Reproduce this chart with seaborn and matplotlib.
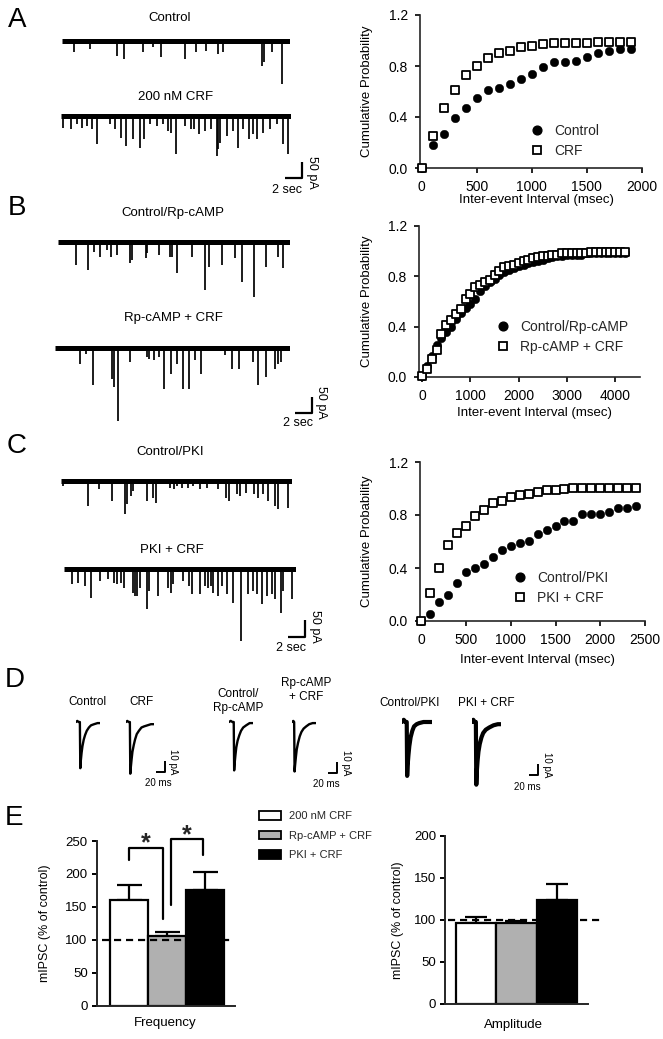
import numpy as np
import pandas as pd
import matplotlib
matplotlib.use("Agg")
import matplotlib.pyplot as plt
import seaborn as sns
from matplotlib.lines import Line2D
from matplotlib.patches import Patch
from matplotlib.ticker import FormatStrFormatter

sns.set_theme(style="ticks")
plt.rcParams["font.family"] = ["Liberation Sans", "DejaVu Sans"]

# ---------------- data ----------------
# Panel A cumulative probability
a_interval = [0, 100, 200, 300, 400, 500, 600, 700, 800, 900, 1000, 1100, 1200, 1300, 1400, 1500, 1600, 1700, 1800, 1900]
a_control = [0.0, 0.18, 0.27, 0.39, 0.47, 0.55, 0.61, 0.63, 0.66, 0.70, 0.74, 0.79, 0.83, 0.83, 0.84, 0.87, 0.90, 0.92, 0.93, 0.93]
a_crf = [0.0, 0.25, 0.47, 0.61, 0.73, 0.80, 0.86, 0.90, 0.92, 0.95, 0.96, 0.97, 0.98, 0.98, 0.98, 0.98, 0.99, 0.99, 0.99, 0.99]

# Panel B cumulative probability
b_interval = list(range(0, 4300, 100))
b_control = [0.01, 0.09, 0.17, 0.25, 0.31, 0.36, 0.40, 0.46, 0.51, 0.55, 0.58, 0.62, 0.68, 0.72, 0.75, 0.78,
             0.81, 0.83, 0.85, 0.86, 0.88, 0.89, 0.90, 0.91, 0.92, 0.93, 0.94, 0.95, 0.96, 0.96, 0.97, 0.97,
             0.97, 0.97, 0.98, 0.98, 0.98, 0.98, 0.98, 0.98, 0.98, 0.98, 0.98]
b_crf = [0.01, 0.06, 0.14, 0.21, 0.34, 0.41, 0.45, 0.50, 0.54, 0.62, 0.66, 0.71, 0.73, 0.75, 0.77, 0.81,
         0.84, 0.87, 0.88, 0.89, 0.90, 0.92, 0.93, 0.94, 0.95, 0.96, 0.96, 0.97, 0.97, 0.98, 0.98, 0.98,
         0.98, 0.98, 0.98, 0.99, 0.99, 0.99, 0.99, 0.99, 0.99, 0.99, 0.99]

# Panel C cumulative probability
c_interval = list(range(0, 2500, 100))
c_control = [0.0, 0.055, 0.145, 0.195, 0.29, 0.37, 0.40, 0.43, 0.48, 0.535, 0.565, 0.59, 0.605, 0.655, 0.685,
             0.72, 0.755, 0.755, 0.805, 0.805, 0.805, 0.82, 0.85, 0.85, 0.87]
c_crf = [0.0, 0.21, 0.40, 0.575, 0.665, 0.72, 0.79, 0.835, 0.89, 0.905, 0.935, 0.95, 0.96, 0.97, 0.985,
         0.985, 0.995, 1.0, 1.0, 1.0, 1.0, 1.0, 1.0, 1.0, 1.0]

# Raw traces: event times (s) and amplitudes (pA)
tA_ctrl_t = [1.40, 3.31, 6.51, 7.39, 9.62, 10.90, 11.82, 14.69, 15.97, 17.21, 18.68, 19.20, 23.87, 24.19, 25.07, 26.27]
tA_ctrl_a = [35, 25, 45, 55, 35, 20, 50, 55, 35, 30, 40, 35, 75, 65, 35, 130]
tA_crf_t = [0.28, 1.16, 1.96, 2.48, 3.15, 3.67, 4.27, 5.87, 6.47, 7.15, 7.78, 8.66, 9.46, 9.94, 10.66, 11.46,
            12.18, 12.85, 13.13, 13.77, 14.85, 15.53, 15.93, 16.57, 17.25, 17.96, 18.64, 18.84, 19.04, 19.84,
            20.64, 21.24, 21.84, 22.55, 23.03, 23.43, 24.23, 25.03, 25.83, 26.63, 27.23]
tA_crf_a = [35, 40, 25, 35, 30, 40, 85, 25, 40, 65, 90, 70, 95, 70, 25, 30, 25, 45, 50, 115, 30, 40, 40, 55,
            45, 40, 120, 100, 80, 60, 45, 95, 40, 70, 55, 70, 50, 40, 25, 85, 115]
tB_ctrl_t = [2.12, 3.51, 4.27, 4.99, 5.87, 6.31, 6.99, 8.58, 8.78, 10.46, 10.66, 12.06, 13.37, 13.57, 14.17,
             15.97, 17.56, 18.04, 19.64, 21.16, 21.96, 23.47, 24.87, 26.35, 26.95]
tB_ctrl_a = [70, 85, 30, 45, 25, 45, 40, 65, 55, 50, 35, 40, 45, 45, 95, 45, 145, 75, 70, 50, 120, 165, 75, 45, 80]
tB_crf_t = [2.99, 3.71, 4.59, 6.79, 7.07, 7.58, 8.98, 10.98, 11.26, 11.86, 12.50, 13.05, 13.85, 14.57, 15.29,
            16.09, 16.77, 17.49, 20.36, 21.16, 22.08, 23.75, 24.35, 25.23, 26.35, 26.75, 27.03]
tB_crf_a = [48, 18, 113, 93, 118, 218, 43, 28, 33, 38, 28, 123, 78, 48, 123, 123, 38, 78, 23, 63, 63, 43, 113,
            88, 63, 48, 43]
tC_ctrl_t = [0.20, 3.19, 4.59, 6.07, 7.66, 7.86, 8.34, 8.66, 10.26, 10.98, 11.34, 13.05, 13.57, 13.93, 14.45,
             15.25, 15.85, 16.65, 17.45, 18.84, 19.76, 20.16, 21.04, 21.44, 22.12, 23.11, 23.63, 24.23, 24.83,
             25.63, 25.95, 27.23]
tC_ctrl_a = [15, 75, 25, 60, 100, 70, 45, 30, 60, 50, 65, 20, 25, 15, 20, 20, 15, 25, 20, 25, 50, 60, 40, 45,
             35, 40, 50, 40, 60, 75, 85, 80]
tC_crf_t = [0.96, 1.68, 2.48, 3.15, 4.27, 5.27, 5.99, 6.35, 6.75, 7.15, 8.18, 8.46, 8.74, 9.06, 9.86, 10.14,
            11.26, 12.46, 12.73, 13.05, 14.25, 14.93, 15.25, 16.25, 16.85, 17.17, 17.56, 17.84, 18.44, 18.84,
            19.44, 20.24, 21.12, 22.04, 22.63, 23.03, 23.63, 24.23, 24.83, 25.23, 25.95, 26.23, 27.23]
tC_crf_a = [45, 40, 50, 85, 35, 30, 40, 45, 40, 55, 70, 80, 80, 55, 120, 65, 80, 55, 70, 45, 35, 50, 75, 75, 50,
            55, 50, 70, 80, 50, 75, 100, 215, 75, 65, 75, 105, 80, 75, 90, 130, 65, 90]

# Panel D averaged mIPSCs: time (ms), current (pA)
d_ctrl_t = [0, 3, 6, 9, 10, 11, 13, 15, 18, 21, 25, 30, 35, 42, 50, 56]
d_ctrl_i = [0, 1, 0, 0, -42, -36, -28, -22, -16, -12, -8, -5, -3, -2, -1, -1]
d_crf_t = [0, 3, 6, 9, 10, 11, 13, 15, 18, 21, 25, 30, 36, 42, 50, 58, 65]
d_crf_i = [0, 1, 0, 0, -47, -42, -34, -27, -21, -16, -11, -8, -5, -4, -3, -2, -2]
d_rp_t = [0, 4, 8, 11, 12, 13, 15, 17, 20, 24, 28, 33, 40, 48, 56]
d_rp_i = [0, 1, 0, 0, -44, -38, -30, -23, -17, -12, -8, -5, -3, -1, -1]
d_rpcrf_t = [0, 3, 5, 6, 7, 9, 11, 14, 18, 22, 27, 33, 40, 48, 55]
d_rpcrf_i = [0, 1, 0, -45, -40, -32, -25, -19, -13, -9, -6, -4, -2, -1, -1]
d_pki_t = [0, 4, 8, 11, 12, 13, 15, 17, 20, 24, 28, 34, 40, 50, 60, 70]
d_pki_i = [0, 2, 0, 0, -49, -40, -30, -22, -14, -8, -4, -2, -1, 0, 0, 0]
d_pkicrf_t = [0, 3, 6, 9, 10, 11, 13, 15, 18, 22, 26, 32, 40, 50, 60, 67]
d_pkicrf_i = [0, 2, 0, 0, -57, -46, -35, -27, -20, -14, -10, -7, -5, -3, -2, -2]

# Panel E bars (% of control)
e_conditions = ["200 nM CRF", "Rp-cAMP + CRF", "PKI + CRF"]
e_freq_mean = [161, 106, 176]
e_freq_sem = [22, 6, 27]
e_amp_mean = [96, 96, 124]
e_amp_sem = [7, 3, 19]
e_colors = ["white", "#b0b0b0", "black"]

# ---------------- layout helpers ----------------
W, H = 663, 1039
fig = plt.figure(figsize=(W / 100, H / 100), dpi=100)
PT = 100 / 72.0


def fbox(l, t, r, b):
    return [l / W, 1 - b / H, (r - l) / W, (b - t) / H]


def T(x, y, s, **kw):
    kw.setdefault("ha", "center")
    kw.setdefault("va", "center")
    kw.setdefault("color", "black")
    fig.text(x / W, 1 - y / H, s, **kw)


def L(xs, ys, lw=1.5):
    fig.add_artist(Line2D([x / W for x in xs], [1 - y / H for y in ys], color="black", lw=lw,
                          transform=fig.transFigure, solid_capstyle="butt"))


# ---------------- panel letters ----------------
for letter, (x, y) in zip("ABCDE", [(17, 20), (17, 208), (17, 446), (15, 680), (14, 818)]):
    T(x, y, letter, fontsize=20)

# ---------------- cumulative plots ----------------
def cum_panel(box, xlim, xticks, iv, ctrl, trt, labels, leg_pos, ylab_x, xlab_y):
    ax = fig.add_axes(fbox(*box))
    df = pd.DataFrame({"Interval": list(iv) * 2, "P": list(ctrl) + list(trt),
                       "Group": [labels[0]] * len(iv) + [labels[1]] * len(iv)})
    sns.scatterplot(data=df[df.Group == labels[0]], x="Interval", y="P", marker="o", s=38,
                    color="black", edgecolor="black", linewidth=0.3, ax=ax, clip_on=False, zorder=3)
    sns.scatterplot(data=df[df.Group == labels[1]], x="Interval", y="P", marker="s", s=30,
                    color="white", edgecolor="black", linewidth=1.3, ax=ax, clip_on=False, zorder=4)
    ax.set_xlim(*xlim)
    ax.set_ylim(0, 1.2)
    ax.set_xticks(xticks)
    ax.set_yticks([0, 0.4, 0.8, 1.2])
    ax.yaxis.set_major_formatter(FormatStrFormatter("%.1f"))
    ax.set_xlabel("")
    ax.set_ylabel("")
    sns.despine(ax=ax)
    for sp in ["left", "bottom"]:
        ax.spines[sp].set_linewidth(1.2)
    ax.tick_params(direction="out", length=3.5, width=1.2, labelsize=10, pad=5, colors="black")
    handles = [Line2D([], [], marker="o", ls="", color="black", markersize=6.3),
               Line2D([], [], marker="s", ls="", markerfacecolor="white", markeredgecolor="black",
                      markeredgewidth=1.3, markersize=5.8)]
    mx, my = leg_pos
    ax.legend(handles, labels, loc="center left", frameon=False, fontsize=10,
              bbox_to_anchor=((mx - 7) / W, 1 - my / H), bbox_transform=fig.transFigure,
              handlelength=1.0, handletextpad=0.75, labelspacing=0.45, borderpad=0, borderaxespad=0)
    T(ylab_x, (box[1] + box[3]) / 2, "Cumulative Probability", rotation=90, fontsize=9.5)
    T((box[0] + box[2]) / 2 + 5, xlab_y, "Inter-event Interval (msec)", fontsize=9.5)
    return ax


cum_panel((420, 15, 642, 168), (-15, 2003), [0, 500, 1000, 1500, 2000], a_interval, a_control, a_crf,
          ["Control", "CRF"], (537, 141), 367, 200)
cum_panel((419, 225.5, 640, 377), (-66, 4513), [0, 1000, 2000, 3000, 4000], b_interval, b_control, b_crf,
          ["Control/Rp-cAMP", "Rp-cAMP + CRF"], (503, 337), 367, 413)
cum_panel((420, 462, 645, 621), (-15, 2500), [0, 500, 1000, 1500, 2000, 2500], c_interval, c_control, c_crf,
          ["Control/PKI", "PKI + CRF"], (520, 588), 367, 660)

# ---------------- raw traces ----------------
PX_S = 8.35    # px per second
PX_PA = 0.334  # px per pA


def trace(x0, base, times, amps, dur):
    ax = fig.add_axes(fbox(x0, base - 12, x0 + dur * PX_S, base + 80))
    ax.set_xlim(0, dur)
    ax.set_ylim(-80 / PX_PA, 12 / PX_PA)
    ax.axis("off")
    ax.plot([0, dur], [0, 0], color="black", lw=3.6, solid_capstyle="butt")
    ax.vlines(times, 0, -np.asarray(amps), color="black", lw=1.25)


trace(62.3, 40.7, tA_ctrl_t, tA_ctrl_a, 27.3)
trace(61.0, 116.0, tA_crf_t, tA_crf_a, 27.6)
trace(58.3, 241.7, tB_ctrl_t, tB_ctrl_a, 27.8)
trace(55.0, 347.7, tB_crf_t, tB_crf_a, 28.1)
trace(61.0, 481.0, tC_ctrl_t, tC_ctrl_a, 27.7)
trace(64.3, 569.3, tC_crf_t, tC_crf_a, 27.7)

T(170, 18, "Control", fontsize=9.5)
T(176, 97, "200 nM CRF", fontsize=9.5)
T(173, 213, "Control/Rp-cAMP", fontsize=9.5)
T(173, 318, "Rp-cAMP + CRF", fontsize=9.5)
T(170, 452, "Control/PKI", fontsize=9.5)
T(172, 550, "PKI + CRF", fontsize=9.5)


def scalebar(cx, cy, wpx, hpx, tx, ty, ttxt, vx, vy, vtxt, fs, lw=1.6):
    L([cx - wpx, cx, cx], [cy, cy, cy - hpx], lw=lw)
    T(tx, ty, ttxt, fontsize=fs)
    T(vx, vy, vtxt, fontsize=fs, rotation=-90)


scalebar(301.7, 178.3, 2 * PX_S, 50 * PX_PA, 287, 190, "2 sec", 312, 172, "50 pA", 9)
scalebar(311.7, 413.3, 2 * PX_S, 50 * PX_PA, 298, 423, "2 sec", 321, 402, "50 pA", 9)
scalebar(305.0, 636.7, 2 * PX_S, 50 * PX_PA, 291, 647.7, "2 sec", 315, 626, "50 pA", 9)

# ---------------- panel D ----------------
PX_MS = 0.43
PX_PAD = 1.1


def mini(x0, base, t, i, lw):
    tmax = max(t)
    ax = fig.add_axes(fbox(x0, base - 10, x0 + tmax * PX_MS, base + 70))
    ax.set_xlim(0, tmax)
    ax.set_ylim(-70 / PX_PAD, 10 / PX_PAD)
    ax.axis("off")
    ax.plot(t, i, color="black", lw=lw, solid_joinstyle="round")


mini(76, 722, d_ctrl_t, d_ctrl_i, 1.7)
mini(126, 722, d_crf_t, d_crf_i, 1.7)
mini(229, 722, d_rp_t, d_rp_i, 1.7)
mini(292, 722, d_rpcrf_t, d_rpcrf_i, 1.7)
mini(402, 722, d_pki_t, d_pki_i, 3.0)
mini(472, 722, d_pkicrf_t, d_pkicrf_i, 3.0)

T(87, 702, "Control", fontsize=8.5)
T(141, 702, "CRF", fontsize=8.5)
T(238, 701, "Control/\nRp-cAMP", fontsize=8.5, linespacing=1.3)
T(306, 690, "Rp-cAMP\n+ CRF", fontsize=8.5, linespacing=1.3)
T(410, 703, "Control/PKI", fontsize=8.5)
T(486, 703, "PKI + CRF", fontsize=8.5)

for cx, cy, tx in [(164.5, 771.7, 158), (336.6, 772.7, 326), (538, 775, 527)]:
    scalebar(cx, cy, 20 * PX_MS, 10 * PX_PAD, tx, cy + 11.5, "20 ms", cx + 9, cy - 10, "10 pA", 7, lw=1.4)

# ---------------- panel E ----------------
def bar_panel(box, xlim, ylim, yticks, means, sems, capsize, dash_x, xlabel, xlab_pos, ylab_x):
    ax = fig.add_axes(fbox(*box))
    df = pd.DataFrame({"cond": e_conditions, "val": means})
    sns.barplot(data=df, x="cond", y="val", hue="cond", palette=e_colors, order=e_conditions,
                hue_order=e_conditions, legend=False, width=1.0, edgecolor="black", linewidth=1.6,
                ax=ax, zorder=2)
    ax.errorbar(range(3), means, yerr=[np.zeros(3), sems], fmt="none", ecolor="black",
                elinewidth=1.6, capsize=capsize, capthick=1.6, zorder=1)
    ax.plot(dash_x, [100, 100], color="black", lw=1.6, dashes=(3.2, 2.2), clip_on=False, zorder=5)
    ax.set_xlim(*xlim)
    ax.set_ylim(*ylim)
    ax.set_yticks(yticks)
    ax.set_xticks([])
    ax.set_xlabel("")
    ax.set_ylabel("")
    sns.despine(ax=ax)
    for sp in ["left", "bottom"]:
        ax.spines[sp].set_linewidth(1.4)
    ax.tick_params(axis="y", direction="out", length=3.5, width=1.4, labelsize=9.5, pad=3, colors="black")
    T(xlab_pos[0], xlab_pos[1], xlabel, fontsize=9.5)
    T(ylab_x, (box[1] + box[3]) / 2, "mIPSC (% of control)", rotation=90, fontsize=9)
    return ax


axf = bar_panel((96.7, 841, 235, 1005.7), (-0.84, 2.79), (0, 250), [0, 50, 100, 150, 200, 250],
                e_freq_mean, e_freq_sem, 9, [-0.71, 2.74], "Frequency", (165, 1023), 45)
axa = bar_panel((445, 836, 588, 1004), (-0.765, 2.77), (0, 200), [0, 50, 100, 150, 200],
                e_amp_mean, e_amp_sem, 8, [-0.68, 3.14], "Amplitude", (513, 1025), 398)

# significance brackets (frequency)
axf.plot([0, 0, 0.89, 0.89], [221, 240, 240, 132], color="black", lw=1.6, clip_on=False, zorder=6)
axf.plot([1.10, 1.10, 1.95, 1.95], [153, 253, 253, 229], color="black", lw=1.6, clip_on=False, zorder=6)
axf.text(0.45, 246, "*", ha="center", va="center", fontsize=18, fontweight="bold", clip_on=False)
axf.text(1.52, 259, "*", ha="center", va="center", fontsize=18, fontweight="bold", clip_on=False)

# legend for panel E
handles = [Patch(facecolor=c, edgecolor="black", linewidth=1.3) for c in e_colors]
fig.legend(handles, e_conditions, loc="upper left", bbox_to_anchor=(259 / W, 1 - 811 / H),
           frameon=False, fontsize=8, handlelength=2.0, handleheight=0.8, handletextpad=0.7,
           labelspacing=0.85, borderpad=0, borderaxespad=0)

fig.savefig("out.png", dpi=100, facecolor="white")
